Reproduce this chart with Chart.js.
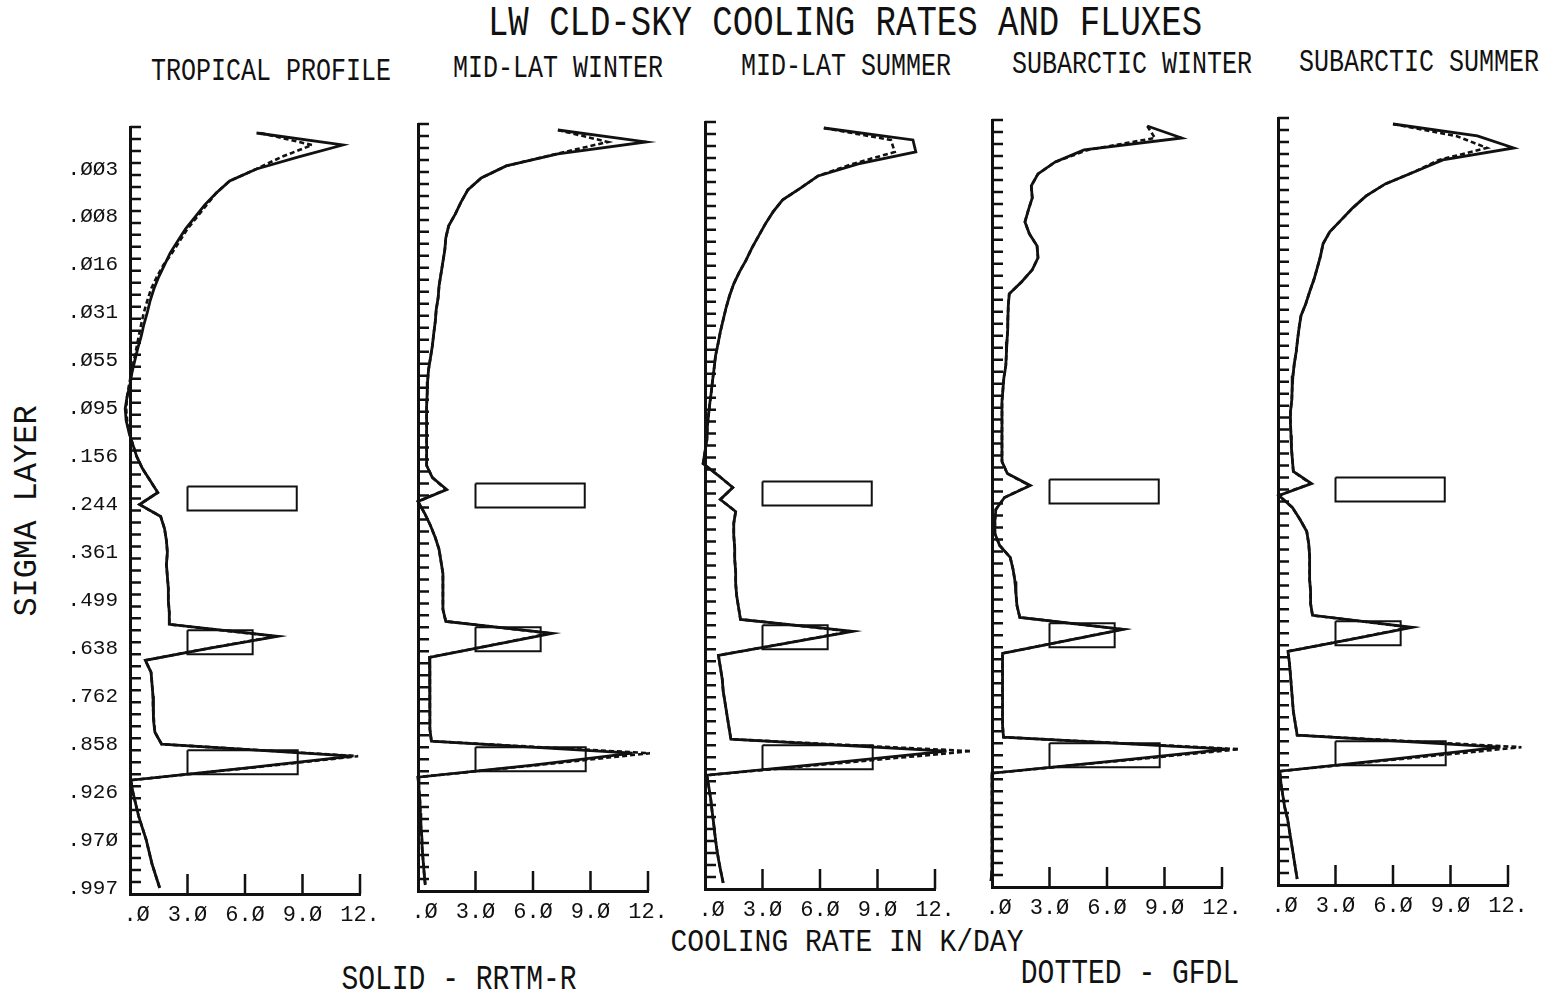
<!DOCTYPE html>
<html>
<head>
<meta charset="utf-8">
<title>LW CLD-SKY COOLING RATES AND FLUXES</title>
<script src="https://cdn.jsdelivr.net/npm/chart.js@4.4.1/dist/chart.umd.min.js"></script>
<style>
    html, body { margin: 0; padding: 0; background: #fff; }
    #page { position: relative; width: 1553px; height: 995px; overflow: hidden; font-family: "Liberation Mono", "DejaVu Sans Mono", monospace; color: #111; }
    .lbl { position: absolute; white-space: nowrap; line-height: 1; }
    canvas { position: absolute; }
</style>
</head>
<body>
<div id="page"></div>
<script>
// Layers / axes
const LAYERS = 64;
const sigmaLabels = ['.ØØ3', '.ØØ8', '.Ø16', '.Ø31', '.Ø55', '.Ø95', '.156', '.244',
    '.361', '.499', '.638', '.762', '.858', '.926', '.97Ø', '.997'];
const sigmaLayers = [4, 8, 12, 16, 20, 24, 28, 32, 36, 40, 44, 48, 52, 56, 60, 64];
const xTicks = [0, 3, 6, 9, 12];
const xTickLabels = [' .Ø', '3.Ø', '6.Ø', '9.Ø', '12.'];
const panelTitles = ['TROPICAL PROFILE', 'MID-LAT WINTER', 'MID-LAT SUMMER', 'SUBARCTIC WINTER', 'SUBARCTIC SUMMER'];

// cloud boxes (layer boundaries, K/day)
const cloudTop = [30, 42, 52];
const cloudBottom = [32, 44, 54];
const cloudLeft = [3, 3, 3];
const cloudRight = [8.7, 6.4, 8.75];

// cooling rates per layer, top to bottom (K/day)
const tropicalSolid = [6.6, 11.1, 8.8, 6.6, 5.2, 4.5, 3.9, 3.4, 2.9, 2.5,
    2.1, 1.8, 1.5, 1.25, 1.05, 0.9, 0.72, 0.58, 0.4, 0.25,
    0.1, 0.0, -0.15, -0.25, -0.2, -0.05, 0.15, 0.35, 0.65, 1.05,
    1.45, 0.5, 1.6, 1.8, 1.9, 1.95, 1.9, 1.95, 2.0, 2.0,
    2.05, 2.05, 7.7, 4.1, 0.8, 1.1, 1.15, 1.2, 1.2, 1.25,
    1.3, 1.65, 11.6, 6.0, 0.05, 0.15, 0.3, 0.45, 0.65, 0.85,
    1.0, 1.15, 1.35, 1.55];
const tropicalDotted = [6.8, 9.5, 7.9, 6.6, 5.2, 4.5, 4.0, 3.5, 3.0, 2.6,
    2.2, 1.75, 1.4, 1.1, 0.9, 0.72, 0.58, 0.45, 0.33, 0.2,
    0.08, -0.05, -0.15, -0.2, -0.15, -0.05, 0.15, 0.35, 0.65, 1.05,
    1.45, 0.5, 1.6, 1.8, 1.9, 1.95, 1.9, 1.95, 2.0, 2.0,
    2.05, 2.05, 7.6, 4.1, 0.8, 1.1, 1.15, 1.2, 1.2, 1.25,
    1.3, 1.65, 11.9, 6.1, 0.05, 0.15, 0.3, 0.45, 0.65, 0.85,
    1.0, 1.15, 1.35, 1.55];

const midLatWinterSolid = [7.3, 11.9, 7.3, 4.6, 3.3, 2.6, 2.25, 1.95, 1.6, 1.45,
    1.4, 1.3, 1.2, 1.1, 1.05, 0.95, 0.9, 0.82, 0.75, 0.65,
    0.55, 0.5, 0.48, 0.45, 0.45, 0.45, 0.45, 0.45, 0.45, 0.75,
    1.5, 0.0, 0.35, 0.65, 0.9, 1.1, 1.2, 1.3, 1.3, 1.3,
    1.3, 1.45, 7.0, 3.8, 0.6, 0.62, 0.62, 0.62, 0.62, 0.62,
    0.62, 0.7, 11.2, 6.0, 0.0, 0.05, 0.1, 0.12, 0.15, 0.2,
    0.22, 0.27, 0.32, 0.38];
const midLatWinterDotted = [7.3, 9.9, 7.2, 4.6, 3.3, 2.6, 2.25, 1.95, 1.6, 1.45,
    1.4, 1.3, 1.2, 1.1, 1.05, 0.95, 0.9, 0.82, 0.75, 0.65,
    0.55, 0.5, 0.48, 0.45, 0.45, 0.45, 0.45, 0.45, 0.45, 0.75,
    1.45, 0.0, 0.35, 0.65, 0.9, 1.1, 1.2, 1.3, 1.3, 1.3,
    1.3, 1.45, 6.9, 3.8, 0.6, 0.62, 0.62, 0.62, 0.62, 0.62,
    0.62, 0.7, 12.1, 6.2, 0.0, 0.05, 0.1, 0.12, 0.15, 0.2,
    0.22, 0.27, 0.32, 0.38];

const midLatSummerSolid = [6.2, 10.85, 11.0, 8.0, 5.9, 5.0, 4.05, 3.55, 3.15, 2.8,
    2.45, 2.15, 1.8, 1.5, 1.28, 1.1, 0.95, 0.8, 0.68, 0.55,
    0.48, 0.4, 0.33, 0.25, 0.18, 0.12, 0.1, 0.0, -0.1, 0.7,
    1.45, 0.8, 1.6, 1.5, 1.5, 1.55, 1.55, 1.6, 1.6, 1.65,
    1.75, 1.85, 7.7, 4.2, 0.7, 0.8, 0.9, 0.95, 1.05, 1.15,
    1.25, 1.35, 12.6, 6.5, 0.1, 0.2, 0.3, 0.37, 0.45, 0.52,
    0.6, 0.7, 0.82, 0.95];
const midLatSummerDotted = [6.2, 9.7, 9.9, 7.7, 5.9, 5.0, 4.05, 3.55, 3.15, 2.8,
    2.45, 2.15, 1.8, 1.5, 1.28, 1.1, 0.95, 0.8, 0.68, 0.55,
    0.48, 0.4, 0.33, 0.25, 0.18, 0.12, 0.1, 0.0, -0.1, 0.7,
    1.45, 0.8, 1.6, 1.5, 1.5, 1.55, 1.55, 1.6, 1.6, 1.65,
    1.75, 1.85, 7.6, 4.2, 0.7, 0.8, 0.9, 0.95, 1.05, 1.15,
    1.25, 1.35, 13.9, 7.0, 0.1, 0.2, 0.3, 0.37, 0.45, 0.52,
    0.6, 0.7, 0.82, 0.95];

const subarcticWinterSolid = [8.1, 9.9, 4.8, 3.3, 2.4, 2.05, 2.1, 1.9, 1.72, 1.95,
    2.35, 2.4, 2.1, 1.55, 0.9, 0.85, 0.83, 0.82, 0.78, 0.75,
    0.72, 0.62, 0.57, 0.52, 0.52, 0.52, 0.52, 0.52, 0.52, 0.8,
    2.0, 0.65, 0.2, 0.15, 0.15, 0.4, 0.95, 1.1, 1.2, 1.25,
    1.3, 1.45, 6.85, 3.7, 0.55, 0.55, 0.55, 0.55, 0.55, 0.55,
    0.55, 0.6, 12.3, 6.3, 0.0, 0.0, 0.0, 0.0, 0.0, 0.0,
    0.0, 0.0, 0.0, -0.05];
const subarcticWinterDotted = [8.1, 8.5, 5.0, 3.3, 2.4, 2.05, 2.1, 1.9, 1.72, 1.95,
    2.35, 2.4, 2.1, 1.55, 0.9, 0.85, 0.83, 0.82, 0.78, 0.75,
    0.72, 0.62, 0.57, 0.52, 0.52, 0.52, 0.52, 0.52, 0.52, 0.8,
    1.95, 0.65, 0.2, 0.15, 0.15, 0.4, 0.95, 1.1, 1.2, 1.25,
    1.3, 1.45, 6.8, 3.7, 0.55, 0.55, 0.55, 0.55, 0.55, 0.55,
    0.55, 0.6, 12.9, 6.5, 0.0, 0.0, 0.0, 0.0, 0.0, 0.0,
    0.0, 0.0, 0.0, -0.05];

const subarcticSummerSolid = [6.0, 10.4, 12.3, 8.6, 7.1, 5.6, 4.6, 3.9, 3.3, 2.7,
    2.35, 2.22, 2.05, 1.87, 1.65, 1.45, 1.2, 1.1, 1.02, 0.95,
    0.85, 0.78, 0.74, 0.72, 0.65, 0.65, 0.68, 0.7, 0.75, 0.8,
    1.75, 0.05, 0.75, 1.15, 1.5, 1.6, 1.65, 1.65, 1.65, 1.7,
    1.7, 1.8, 7.0, 3.8, 0.52, 0.6, 0.65, 0.7, 0.75, 0.8,
    0.9, 1.0, 11.6, 6.0, 0.1, 0.15, 0.25, 0.35, 0.5, 0.6,
    0.7, 0.8, 0.9, 1.0];
const subarcticSummerDotted = [6.0, 9.3, 10.9, 8.4, 7.1, 5.6, 4.6, 3.9, 3.3, 2.7,
    2.35, 2.22, 2.05, 1.87, 1.65, 1.45, 1.2, 1.1, 1.02, 0.95,
    0.85, 0.78, 0.74, 0.72, 0.65, 0.65, 0.68, 0.7, 0.75, 0.8,
    1.7, 0.05, 0.75, 1.15, 1.5, 1.6, 1.65, 1.65, 1.65, 1.7,
    1.7, 1.8, 6.9, 3.8, 0.52, 0.6, 0.65, 0.7, 0.75, 0.8,
    0.9, 1.0, 12.7, 6.3, 0.1, 0.15, 0.25, 0.35, 0.5, 0.6,
    0.7, 0.8, 0.9, 1.0];

const solidSeries = [tropicalSolid, midLatWinterSolid, midLatSummerSolid, subarcticWinterSolid, subarcticSummerSolid];
const dottedSeries = [tropicalDotted, midLatWinterDotted, midLatSummerDotted, subarcticWinterDotted, subarcticSummerDotted];

// panel placement on the page (scan is slightly skewed)
const panelLeft = [130, 418, 705, 992, 1278];
const panelTop = [127, 124, 122, 120, 118];
const PLOT_W = 230, PLOT_H = 767;
const INK = '#111';
const FONT = 'Liberation Mono';

const page = document.getElementById('page');

function addLabel(text, cx, cy, size, sy, rotate) {
    const el = document.createElement('div');
    el.className = 'lbl';
    el.textContent = text;
    el.style.left = cx + 'px';
    el.style.top = cy + 'px';
    el.style.fontSize = size + 'px';
    el.style.transform = 'translate(-50%, -50%)' + (rotate ? ' rotate(-90deg)' : '') + ' scale(1, ' + sy + ')';
    page.appendChild(el);
}

addLabel('LW CLD-SKY COOLING RATES AND FLUXES', 845, 24, 34, 1.25);
const titlePos = [[271, 72], [558, 69], [846, 67], [1132, 65], [1419, 63]];
panelTitles.forEach((t, i) => addLabel(t, titlePos[i][0], titlePos[i][1], 25, 1.25));
addLabel('SIGMA LAYER', 28, 511, 32, 1.05, true);
addLabel('COOLING RATE IN K/DAY', 847, 943, 28, 1.15);
addLabel('SOLID - RRTM-R', 459, 980, 28, 1.25);
addLabel('DOTTED - GFDL', 1130, 974, 28, 1.25);

// inward tick marks on both axes
const innerTicks = {
    id: 'innerTicks',
    afterDraw(chart) {
        const { ctx, chartArea, scales: { x, y } } = chart;
        ctx.save();
        ctx.strokeStyle = INK;
        ctx.lineWidth = 2.5;
        ctx.beginPath();
        for (let k = 0; k < LAYERS; k++) {
            const py = y.getPixelForValue(k);
            ctx.moveTo(chartArea.left, py);
            ctx.lineTo(chartArea.left + 11, py);
        }
        xTicks.slice(1).forEach(v => {
            const px = x.getPixelForValue(v);
            ctx.moveTo(px, chartArea.bottom);
            ctx.lineTo(px, chartArea.bottom - 20);
        });
        ctx.stroke();
        ctx.restore();
    }
};

function cloudBox(i) {
    return [
        { x: cloudLeft[i], y: cloudTop[i] },
        { x: cloudRight[i], y: cloudTop[i] },
        { x: cloudRight[i], y: cloudBottom[i] },
        { x: cloudLeft[i], y: cloudBottom[i] },
        { x: cloudLeft[i], y: cloudTop[i] }
    ];
}

function createPanel(p) {
    const L = p === 0 ? 130 : 24, T = 10, R = 50, B = 50;
    const canvas = document.createElement('canvas');
    canvas.width = L + PLOT_W + R;
    canvas.height = T + PLOT_H + B;
    canvas.style.left = (panelLeft[p] - L) + 'px';
    canvas.style.top = (panelTop[p] - T) + 'px';
    page.appendChild(canvas);

    const toPoints = arr => arr.map((v, i) => ({ x: v, y: i + 0.5 }));
    const datasets = cloudTop.map((_, i) => ({
        data: cloudBox(i),
        borderColor: INK,
        borderWidth: 2,
        pointRadius: 0,
        clip: false
    }));
    datasets.push({
        data: toPoints(dottedSeries[p]),
        borderColor: INK,
        borderWidth: 2.6,
        borderDash: [5, 3],
        pointRadius: 0,
        clip: false
    });
    datasets.push({
        data: toPoints(solidSeries[p]),
        borderColor: INK,
        borderWidth: 2.8,
        pointRadius: 0,
        clip: false
    });

    new Chart(canvas, {
        type: 'line',
        data: { datasets },
        options: {
            responsive: false,
            animation: false,
            events: [],
            layout: { padding: { left: 0, top: T, right: R, bottom: 0 } },
            plugins: { legend: { display: false }, tooltip: { enabled: false } },
            elements: { line: { tension: 0 } },
            scales: {
                x: {
                    type: 'linear',
                    min: 0,
                    max: 12,
                    afterBuildTicks: s => { s.ticks = xTicks.map(v => ({ value: v })); },
                    afterFit: s => { s.height = B; s.paddingLeft = 0; s.paddingRight = 0; },
                    grid: { display: false, drawTicks: false },
                    border: { display: true, color: INK, width: 3 },
                    ticks: {
                        autoSkip: false,
                        maxRotation: 0,
                        padding: 8,
                        color: INK,
                        font: { family: FONT, size: 22 },
                        callback: v => xTickLabels[xTicks.indexOf(v)]
                    }
                },
                y: {
                    type: 'linear',
                    reverse: true,
                    min: 0,
                    max: LAYERS,
                    afterBuildTicks: s => { s.ticks = sigmaLayers.map(k => ({ value: k - 0.5 })); },
                    afterFit: s => { s.width = L; s.paddingTop = 0; s.paddingBottom = 0; },
                    grid: { display: false, drawTicks: false },
                    border: { display: true, color: INK, width: 3 },
                    ticks: {
                        display: p === 0,
                        autoSkip: false,
                        padding: 12,
                        color: INK,
                        font: { family: FONT, size: 21 },
                        callback: v => sigmaLabels[sigmaLayers.indexOf(v + 0.5)]
                    }
                }
            }
        },
        plugins: [innerTicks]
    });
}

document.addEventListener('DOMContentLoaded', () => {
    panelTitles.forEach((_, p) => createPanel(p));
});
</script>
</body>
</html>
